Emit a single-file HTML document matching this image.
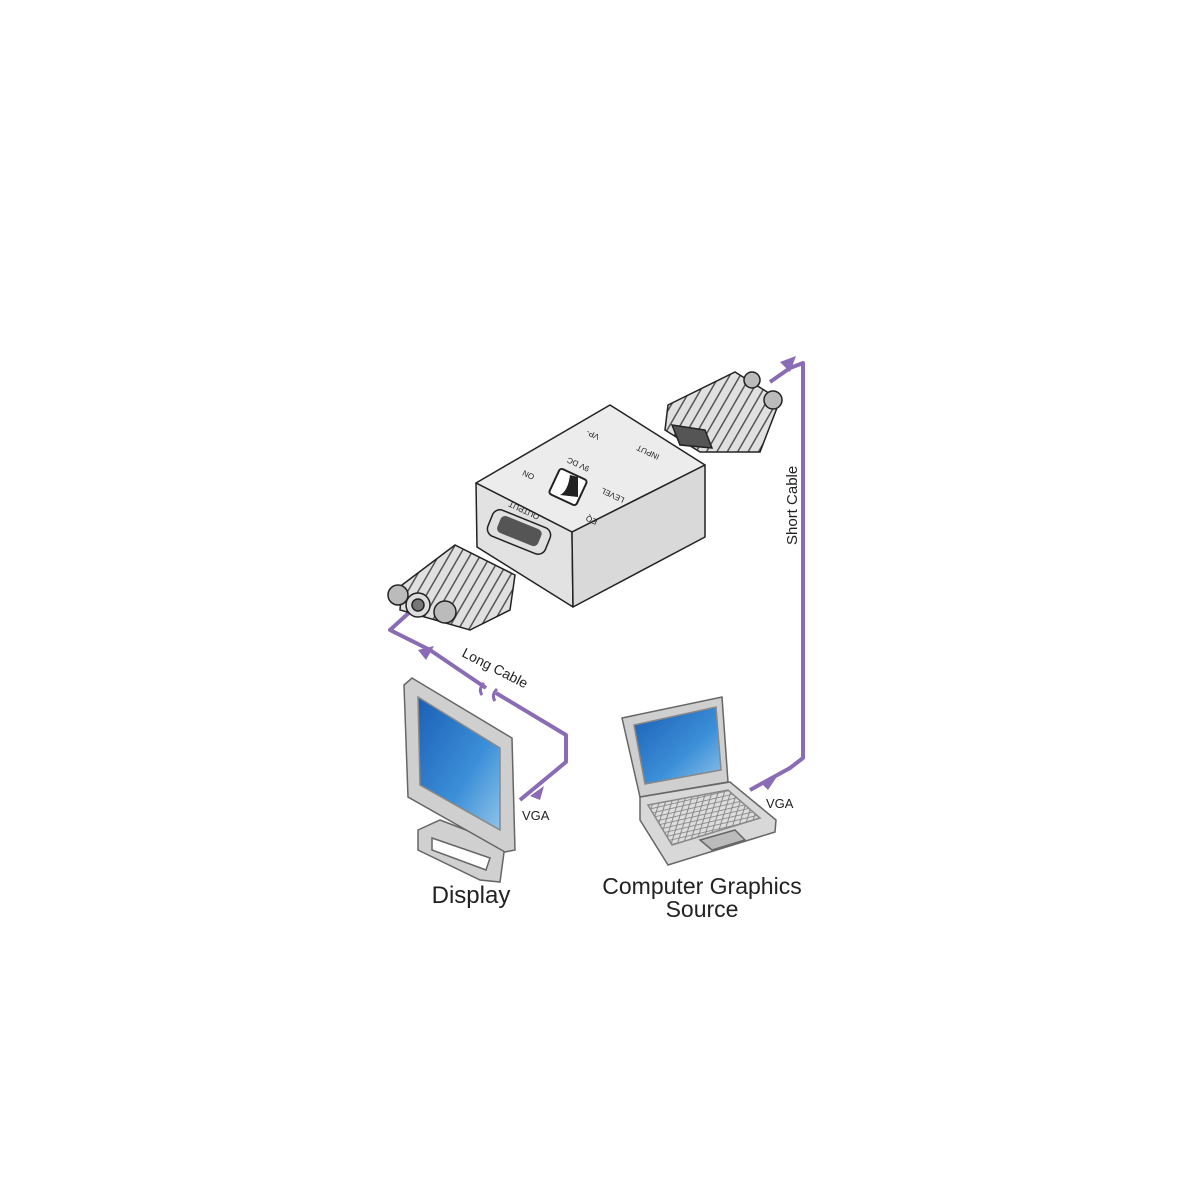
<!DOCTYPE html>
<html><head><meta charset="utf-8"><style>
html,body{margin:0;padding:0;background:#fff}
svg{display:block}
text{font-family:"Liberation Sans",Arial,sans-serif;fill:#222}
</style></head><body>
<svg width="1200" height="1200" viewBox="0 0 1200 1200" xmlns="http://www.w3.org/2000/svg">
<defs>
<linearGradient id="scr" x1="0" y1="0" x2="1" y2="1"><stop offset="0" stop-color="#1c5fb5"/><stop offset="0.6" stop-color="#3b8fd8"/><stop offset="1" stop-color="#8fc3ea"/></linearGradient>
<pattern id="rib" width="9" height="9" patternUnits="userSpaceOnUse" patternTransform="rotate(30)"><rect width="9" height="9" fill="#e0e0e0"/><rect width="1.5" height="9" fill="#555"/></pattern>
<pattern id="keys" width="6" height="5" patternUnits="userSpaceOnUse" patternTransform="skewX(-30) rotate(-15)"><rect width="6" height="5" fill="#ddd"/><rect width="6" height="1" fill="#888"/><rect width="1" height="5" fill="#888"/></pattern>
</defs>

<g stroke="#8a6bb5" stroke-width="4" fill="none" stroke-linejoin="round">
<polyline points="750,790 790,768 803,758 803,363 790,368 770,382"/>
<polyline points="412,610 390,630 430,650 486,688"/>
<polyline points="496,693 566,735 566,762 520,800"/>
</g>
<g stroke="#8a6bb5" stroke-width="3" fill="none">
<path d="M484,683 q-6,6 -2,12"/><path d="M497,689 q-6,6 -2,12"/>
</g>
<g fill="#8a6bb5">
<polygon points="780,362 796,356 790,372"/>
<polygon points="418,650 434,646 426,660"/>
<polygon points="778,775 760,782 768,790"/>
<polygon points="530,796 544,786 540,800"/>
</g>

<g stroke="#222" stroke-width="1.5" stroke-linejoin="round">
<polygon points="476,483 572,532 705,465 610,405" fill="#ececec"/>
<polygon points="476,483 572,532 573,607 477,547" fill="#e2e2e2"/>
<polygon points="572,532 705,465 705,537 573,607" fill="#d9d9d9"/>
</g>
<rect x="553" y="473" width="30" height="28" rx="3" fill="#fff" stroke="#222" stroke-width="2" transform="rotate(25 568 487)"/>
<path d="M560,495 q8,-4 10,-20 l8,2 v20 z" fill="#222"/>
<g font-size="8" fill="#333">
<text transform="translate(600,435) rotate(205)">VP-</text>
<text transform="translate(660,455) rotate(205)">INPUT</text>
<text transform="translate(590,467) rotate(205)">9V DC</text>
<text transform="translate(535,475) rotate(205)">ON</text>
<text transform="translate(540,515) rotate(205)">OUTPUT</text>
<text transform="translate(625,498) rotate(205)">LEVEL</text>
<text transform="translate(598,520) rotate(205)">EQ</text>
</g>
<rect x="488" y="518" width="62" height="28" rx="8" fill="#e0e0e0" stroke="#222" stroke-width="1.5" transform="rotate(22 519 532)"/>
<rect x="497" y="522" width="44" height="18" rx="5" fill="#555" transform="rotate(22 519 532)"/>

<g stroke="#222" stroke-width="1.5">
<polygon points="668,405 735,372 780,400 760,452 700,452 665,430" fill="url(#rib)"/>
<polygon points="672,425 705,430 712,448 680,445" fill="#555"/>
<circle cx="773" cy="400" r="9" fill="#bbb"/>
<circle cx="752" cy="380" r="8" fill="#bbb"/>
</g>
<g stroke="#222" stroke-width="1.5">
<polygon points="402,585 455,545 515,575 510,610 470,630 400,610" fill="url(#rib)"/>
<circle cx="398" cy="595" r="10" fill="#bbb"/>
<circle cx="445" cy="612" r="11" fill="#bbb"/>
<circle cx="418" cy="605" r="12" fill="#ddd"/>
<circle cx="418" cy="605" r="6" fill="#777"/>
</g>

<g stroke="#666" stroke-width="1.5">
<polygon points="418,830 440,820 505,845 500,882 480,880 418,850" fill="#d0d0d0"/>
<polygon points="432,838 490,858 486,870 432,850" fill="#fff"/>
<polygon points="404,685 412,678 512,738 515,850 505,852 408,797" fill="#cfcfcf"/>
<polygon points="418,697 500,748 500,830 420,785" fill="url(#scr)" stroke="#888"/>
</g>

<g stroke="#666" stroke-width="1.5">
<polygon points="622,718 722,697 728,782 640,797" fill="#cfcfcf"/>
<polygon points="634,725 716,707 721,770 645,784" fill="url(#scr)" stroke="#888"/>
<polygon points="640,797 730,782 776,820 775,832 668,865 640,820" fill="#d8d8d8"/>
<polygon points="648,805 728,790 760,818 672,845" fill="url(#keys)" stroke="#888"/>
<polygon points="700,840 735,830 745,840 712,850" fill="#bbb"/>
</g>

<text x="471" y="903" font-size="24" text-anchor="middle">Display</text>
<text x="702" y="894" font-size="23" text-anchor="middle">Computer Graphics</text>
<text x="702" y="917" font-size="23" text-anchor="middle">Source</text>
<text x="522" y="820" font-size="13">VGA</text>
<text x="766" y="808" font-size="13">VGA</text>
<text transform="translate(461,656) rotate(27)" font-size="14">Long Cable</text>
<text transform="translate(797,545) rotate(-90)" font-size="15">Short Cable</text>
</svg>
</body></html>
